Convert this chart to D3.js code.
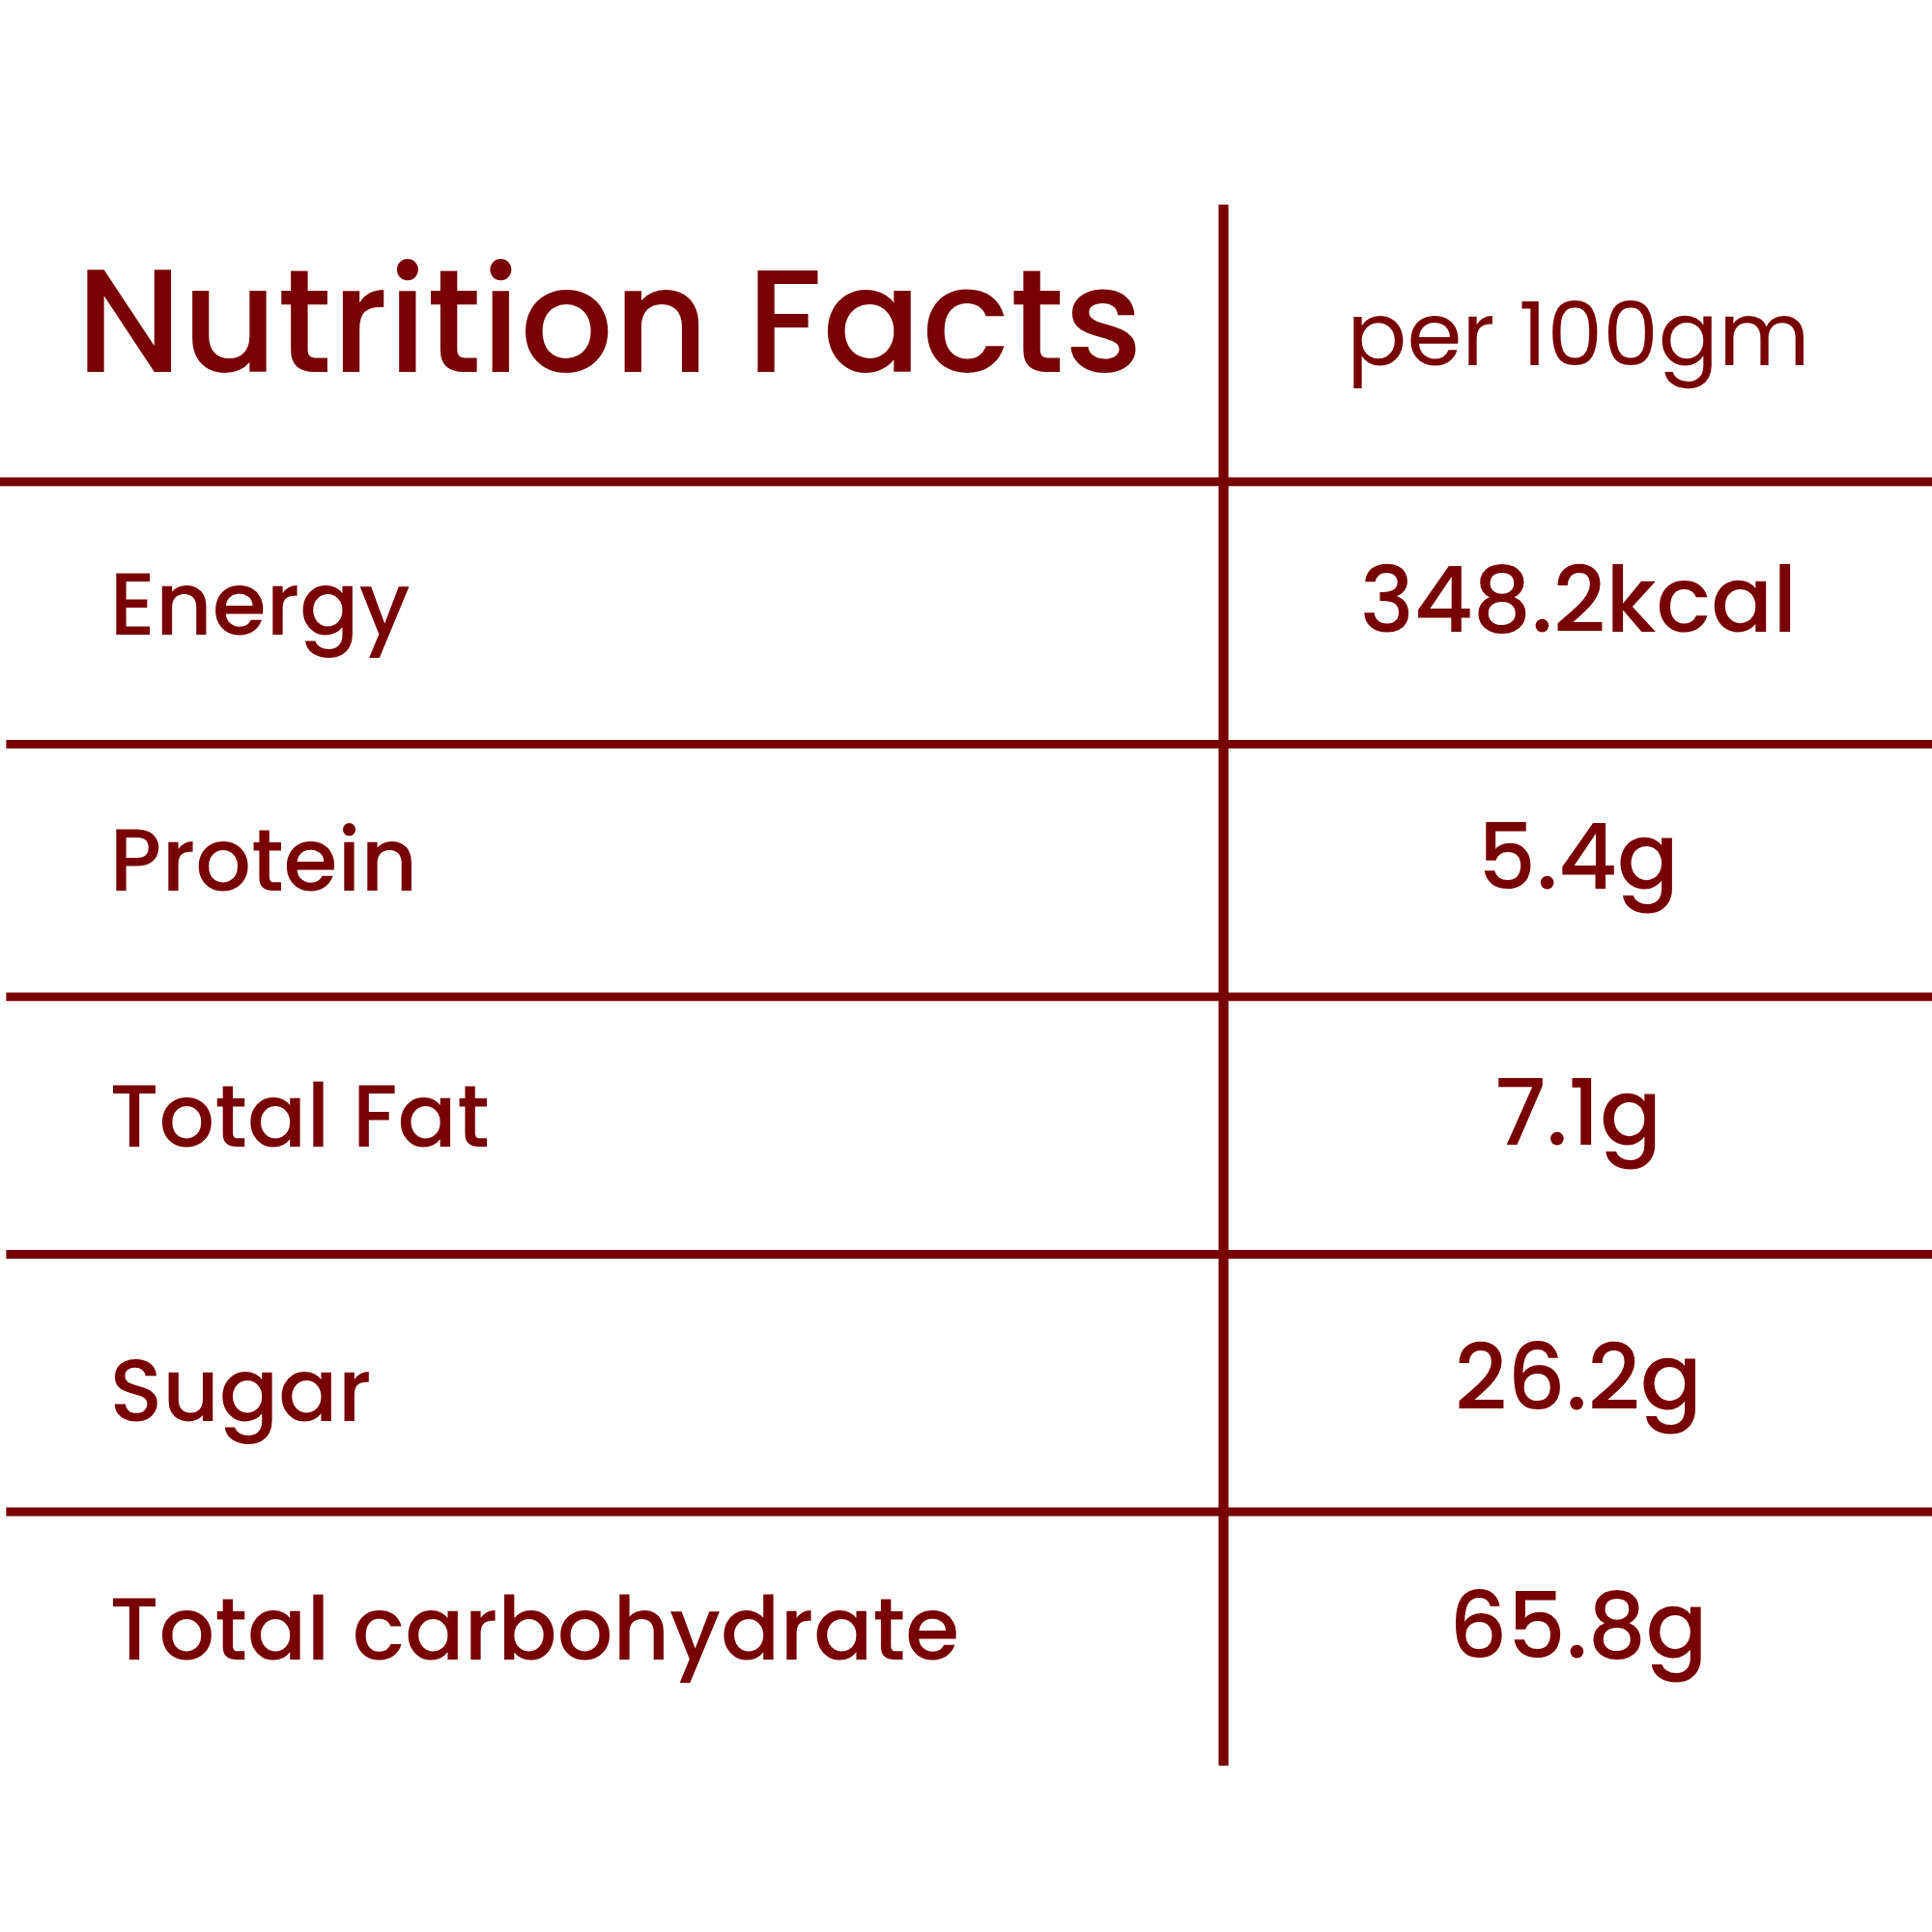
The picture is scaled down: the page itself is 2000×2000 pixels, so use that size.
<!DOCTYPE html>
<html><head><meta charset="utf-8">
<script src="https://cdn.jsdelivr.net/npm/d3@7"></script>
<style>body{margin:0;background:#fff}</style>
</head><body>
<div id="chart"></div>
<script>
var title = "Nutrition Facts";
var unitLabel = "per 100gm";
var nutrients = ["Energy", "Protein", "Total Fat", "Sugar", "Total carbohydrate"];
var amounts = ["348.2kcal", "5.4g", "7.1g", "26.2g", "65.8g"];

var color = "#780000";
var font = "Poppins, Inter, 'Open Sans', sans-serif";

// drawn in 1568 units, scaled to 2000px
var svg = d3.select("#chart").append("svg")
    .attr("width", 2000).attr("height", 2000)
    .attr("viewBox", "0 0 1568 1568");

var rowY = d3.scaleLinear().domain([0, nutrients.length - 1]).range([515, 1347]);
var lineY = d3.scaleLinear().domain([0, nutrients.length - 1]).range([391, 1227]);

// vertical divider
svg.append("line")
    .attr("x1", 993).attr("x2", 993).attr("y1", 166).attr("y2", 1433)
    .attr("stroke", color).attr("stroke-width", 8);

// horizontal rules
svg.selectAll("line.rule").data(nutrients).enter().append("line")
    .attr("class", "rule")
    .attr("x1", function(d, i) { return i == 0 ? 0 : 5; })
    .attr("x2", 1568)
    .attr("y1", function(d, i) { return lineY(i) + (i == 1 ? 4 : 0); })
    .attr("y2", function(d, i) { return lineY(i) + (i == 1 ? 4 : 0); })
    .attr("stroke", color).attr("stroke-width", 7);

svg.append("text")
    .attr("x", 62).attr("y", 302)
    .attr("font-family", font).attr("font-weight", 500).attr("font-size", 119)
    .attr("fill", color).text(title);

svg.append("text")
    .attr("x", 1281).attr("y", 296).attr("text-anchor", "middle")
    .attr("font-family", font).attr("font-size", 72)
    .attr("fill", color).text(unitLabel);

svg.selectAll("text.label").data(nutrients).enter().append("text")
    .attr("class", "label")
    .attr("x", 89).attr("y", function(d, i) { return rowY(i) + (i == 3 ? 14 : 0); })
    .attr("font-family", font).attr("font-weight", 500).attr("font-size", 71)
    .attr("fill", color).text(function(d) { return d; });

svg.selectAll("text.value").data(amounts).enter().append("text")
    .attr("class", "value")
    .attr("x", 1281).attr("y", function(d, i) { return rowY(i) - 2 + (i == 3 ? 7 : 0); })
    .attr("text-anchor", "middle")
    .attr("font-family", font).attr("font-weight", 500).attr("font-size", 74)
    .attr("fill", color).text(function(d) { return d; });
</script>
</body></html>
